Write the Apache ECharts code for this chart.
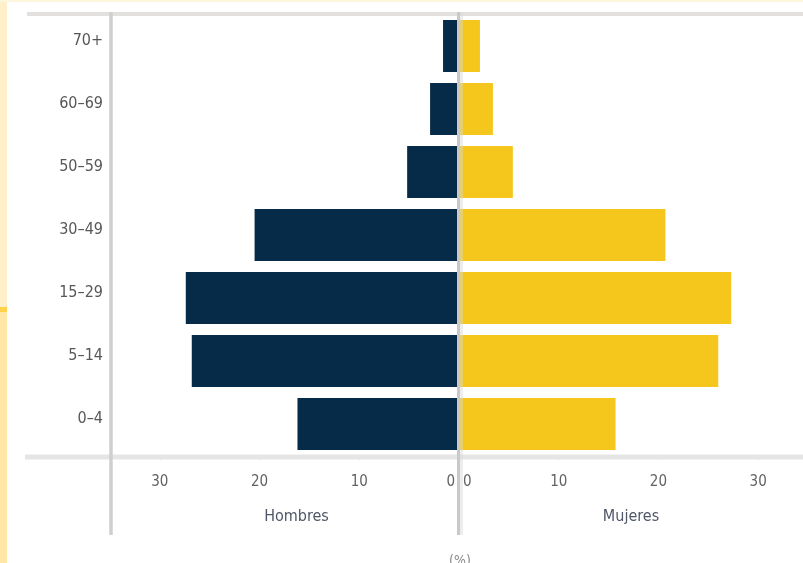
<!DOCTYPE html>
<html>
<head>
<meta charset="utf-8">
<script src="https://cdn.jsdelivr.net/npm/echarts@6/dist/echarts.min.js"></script>
<style>
html,body{margin:0;padding:0;background:#fff;}
#c{width:803px;height:563px;}
</style>
</head>
<body>
<div id="c"></div>
<script>
// Data (bottom category first)
const categories = ['0–4', '5–14', '15–29', '30–49', '50–59', '60–69', '70+'];
const hombres = [16.2, 26.8, 27.4, 20.5, 5.2, 2.9, 1.6];
const mujeres = [15.7, 26.0, 27.3, 20.7, 5.4, 3.4, 2.1];
const xTickLabels = ['0', '10', '20', '30'];
const nameHombres = 'Hombres';
const nameMujeres = 'Mujeres';
const unitLabel = '(%)';

const FONT = '"DejaVu Sans", "Liberation Sans Narrow", "Noto Sans", sans-serif';
const STRETCH = 'condensed';
const TICK_COLOR = '#626262';
const TICK_SIZE = 15;
const chart = echarts.init(document.getElementById('c'), null, {renderer: 'canvas'});

function makeFmt(zeroStyle) {
  return function (v) {
    const s = String(Math.round(v));
    if (xTickLabels.indexOf(s) < 0) return '';
    return s === '0' ? '{' + zeroStyle + '|' + s + '}' : s;
  };
}
const zeroRich = {
  zl: {color: TICK_COLOR, fontFamily: FONT, fontStyle: STRETCH, fontSize: TICK_SIZE, padding: [0, 4, 0, 0]},
  zr: {color: TICK_COLOR, fontFamily: FONT, fontStyle: STRETCH, fontSize: TICK_SIZE, padding: [0, 0, 0, 4]}
};

const xAxisCommon = {
  type: 'value', min: 0, interval: 10,
  axisLine: {show: false},
  axisTick: {show: true, length: 5, lineStyle: {color: '#f1f1f1', width: 1}},
  splitLine: {show: false},
  axisLabel: {
    color: TICK_COLOR, fontFamily: FONT, fontStyle: STRETCH, fontSize: TICK_SIZE, margin: 19,
    showMaxLabel: false, rich: zeroRich
  },
  nameLocation: 'middle', nameGap: 53,
  nameTextStyle: {color: '#4f5666', fontFamily: FONT, fontStyle: STRETCH, fontSize: 16}
};

const option = {
  backgroundColor: '#ffffff',
  animation: false,
  grid: [
    {left: 110, width: 349, top: 14.5, height: 441},
    {left: 459, right: 0, top: 14.5, height: 441}
  ],
  xAxis: [
    Object.assign({}, xAxisCommon, {
      gridIndex: 0, inverse: true, max: 35, name: nameHombres,
      axisLabel: Object.assign({}, xAxisCommon.axisLabel, {alignMinLabel: 'right', formatter: makeFmt('zl')}),
      nameTextStyle: Object.assign({}, xAxisCommon.nameTextStyle, {padding: [0, 0, 0, 24]})
    }),
    Object.assign({}, xAxisCommon, {
      gridIndex: 1, max: 34.5, name: nameMujeres,
      axisLabel: Object.assign({}, xAxisCommon.axisLabel, {alignMinLabel: 'left', formatter: makeFmt('zr')})
    })
  ],
  yAxis: [
    {
      type: 'category', gridIndex: 0, data: categories,
      axisLine: {show: false}, axisTick: {show: false},
      axisLabel: {color: '#575757', fontFamily: FONT, fontStyle: STRETCH, fontSize: 16, margin: 7,
        verticalAlign: 'bottom', lineHeight: 11}
    },
    {
      type: 'category', gridIndex: 1, data: categories,
      axisLine: {show: false}, axisTick: {show: false}, axisLabel: {show: false}
    }
  ],
  series: [
    {
      name: nameHombres, type: 'bar', xAxisIndex: 0, yAxisIndex: 0,
      data: hombres, barCategoryGap: '17.5%',
      itemStyle: {color: '#062b48'}
    },
    {
      name: nameMujeres, type: 'bar', xAxisIndex: 1, yAxisIndex: 1,
      data: mujeres, barCategoryGap: '17.5%',
      itemStyle: {color: '#f5c61b'}
    }
  ],
  graphic: [
    // left decorative stripe
    {type: 'rect', shape: {x: 0, y: 0, width: 7, height: 307}, style: {fill: '#fff0c9'}, z: 1},
    {type: 'rect', shape: {x: 0, y: 307, width: 7, height: 5}, style: {fill: '#ffd24a'}, z: 1},
    {type: 'rect', shape: {x: 0, y: 312, width: 7, height: 251}, style: {fill: '#ffe8a6'}, z: 1},
    {type: 'rect', shape: {x: 0, y: 0, width: 803, height: 2}, style: {fill: '#fff6de'}, z: 1},
    // frame lines
    {type: 'line', shape: {x1: 27, y1: 14, x2: 803, y2: 14}, style: {stroke: '#e2e1df', lineWidth: 4}, z: 5},
    {type: 'line', shape: {x1: 25, y1: 457, x2: 803, y2: 457}, style: {stroke: '#e5e5e5', lineWidth: 5}, z: 5},
    {type: 'line', shape: {x1: 111, y1: 12, x2: 111, y2: 535}, style: {stroke: '#cfcfcf', lineWidth: 3.5}, z: 6},
    {type: 'line', shape: {x1: 458.5, y1: 12, x2: 458.5, y2: 535}, style: {stroke: '#c9c9c9', lineWidth: 3}, z: 10},
    {type: 'line', shape: {x1: 461.5, y1: 12, x2: 461.5, y2: 535}, style: {stroke: 'rgba(215,215,215,0.45)', lineWidth: 3}, z: 10},
    // unit label
    {type: 'text', x: 460, y: 554, style: {text: unitLabel, fill: '#8a8a8a', font: 'condensed 14px ' + FONT, textAlign: 'center', textVerticalAlign: 'top'}, z: 10}
  ]
};
chart.setOption(option);
</script>
</body>
</html>
